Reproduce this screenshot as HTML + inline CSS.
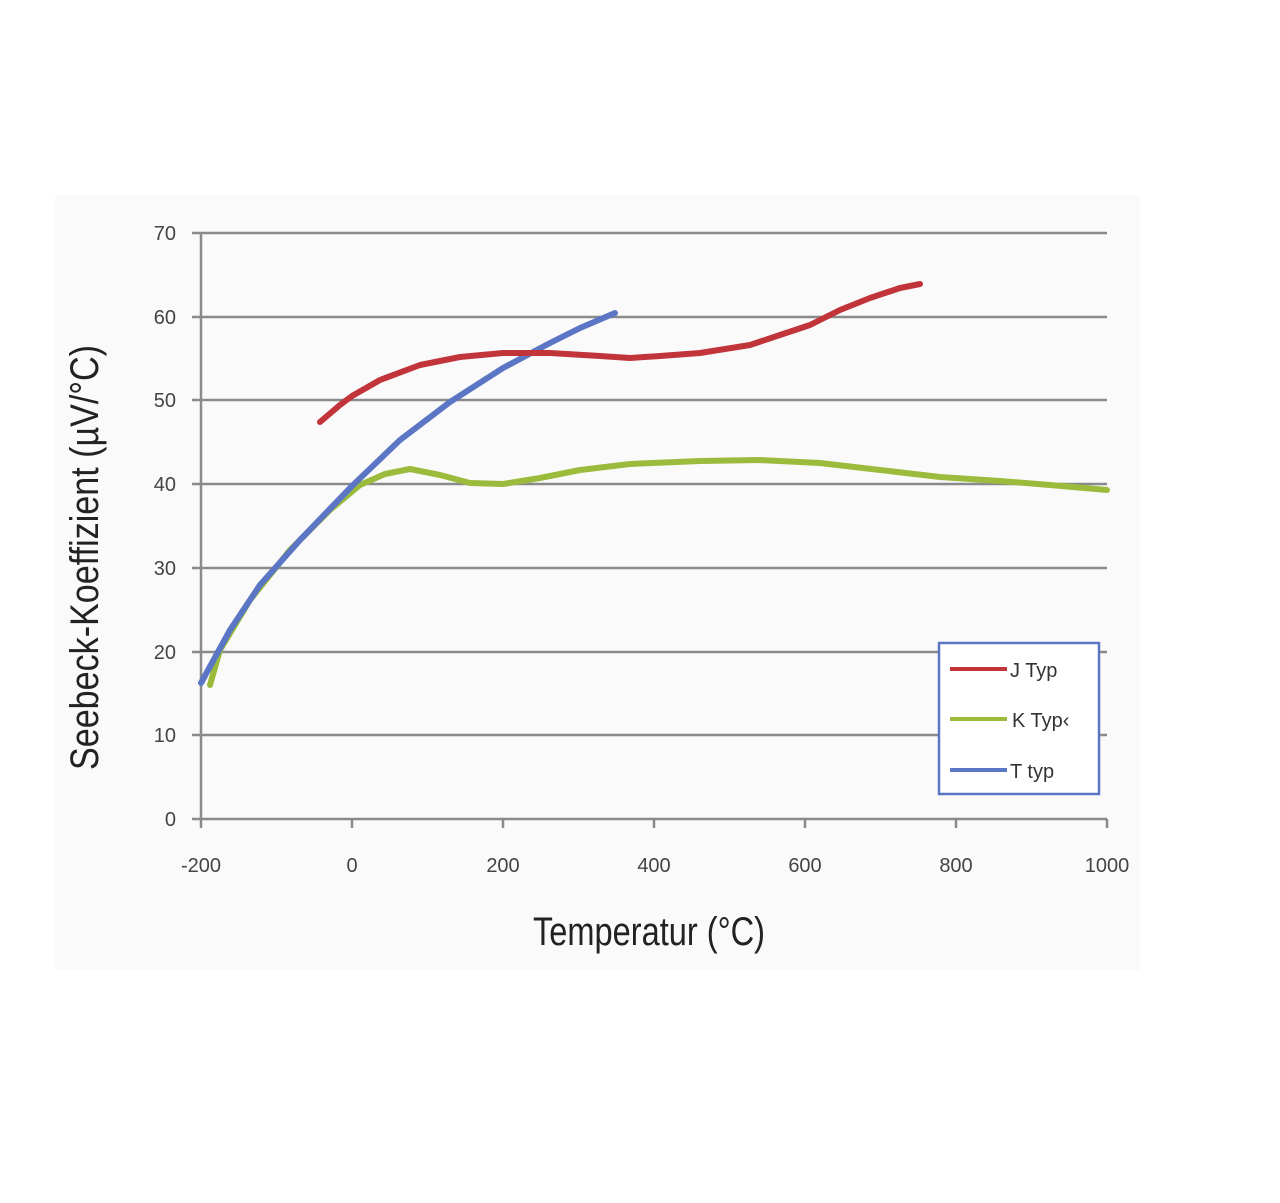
<!DOCTYPE html>
<html><head><style>body{margin:0;background:#fff}</style></head><body>
<svg width="1280" height="1198" xmlns="http://www.w3.org/2000/svg" font-family="Liberation Sans, sans-serif">
<rect x="55" y="195" width="1085" height="775" fill="#fafafa"/>
<g stroke="#8a8a8a" stroke-width="2.5">
<line x1="192" y1="233" x2="1107" y2="233"/>
<line x1="192" y1="317" x2="1107" y2="317"/>
<line x1="192" y1="400" x2="1107" y2="400"/>
<line x1="192" y1="484" x2="1107" y2="484"/>
<line x1="192" y1="568" x2="1107" y2="568"/>
<line x1="192" y1="652" x2="1107" y2="652"/>
<line x1="192" y1="735" x2="1107" y2="735"/>
<line x1="192" y1="819" x2="1107" y2="819"/>
<line x1="201" y1="233" x2="201" y2="828"/>
<line x1="352" y1="819" x2="352" y2="828"/>
<line x1="503" y1="819" x2="503" y2="828"/>
<line x1="654" y1="819" x2="654" y2="828"/>
<line x1="805" y1="819" x2="805" y2="828"/>
<line x1="956" y1="819" x2="956" y2="828"/>
<line x1="1107" y1="819" x2="1107" y2="828"/>
</g>
<g font-size="20" fill="#444" text-anchor="end">
<text x="176" y="240">70</text><text x="176" y="324">60</text><text x="176" y="407">50</text>
<text x="176" y="491">40</text><text x="176" y="575">30</text><text x="176" y="659">20</text>
<text x="176" y="742">10</text><text x="176" y="826">0</text>
</g>
<g font-size="20" fill="#444" text-anchor="middle">
<text x="201" y="872">-200</text><text x="352" y="872">0</text><text x="503" y="872">200</text>
<text x="654" y="872">400</text><text x="805" y="872">600</text><text x="956" y="872">800</text><text x="1107" y="872">1000</text>
</g>
<g fill="none" stroke-width="6" stroke-linecap="round" stroke-linejoin="round">
<polyline stroke="#9bbb3c" points="210,685 220,650 250,600 290,550 330,510 360,485 385,474 410,469 440,475 470,483 503,484 540,478 580,470 630,464 700,461 760,460 820,463 880,470 940,477 1000,481 1050,485 1107,490"/>
<polyline stroke="#5b76c4" points="201,683 230,630 260,585 300,540 352,486 400,440 450,402 503,368 550,343 580,328 615,313"/>
<polyline stroke="#c0343a" points="320,422 340,405 352,396 380,380 420,365 460,357 503,353 550,353 600,356 630,358 660,356 700,353 750,345 780,335 810,325 840,310 870,298 900,288 920,284"/>
</g>
<rect x="939" y="643" width="160" height="151" fill="#fff" stroke="#5b76c4" stroke-width="2.5"/>
<line x1="950" y1="669" x2="1007" y2="669" stroke="#c0343a" stroke-width="4"/>
<line x1="950" y1="719" x2="1007" y2="719" stroke="#9bbb3c" stroke-width="4"/>
<line x1="950" y1="770" x2="1007" y2="770" stroke="#5b76c4" stroke-width="4"/>
<g font-size="20" fill="#333">
<text x="1010" y="677">J Typ</text><text x="1012" y="727">K Typ‹</text><text x="1010" y="778">T typ</text>
</g>
<text x="533" y="945" font-size="40" fill="#222" textLength="232" lengthAdjust="spacingAndGlyphs">Temperatur (°C)</text>
<text transform="translate(98,770) rotate(-90)" font-size="40" fill="#222" textLength="425" lengthAdjust="spacingAndGlyphs">Seebeck-Koeffizient (µV/°C)</text>
</svg>
</body></html>
